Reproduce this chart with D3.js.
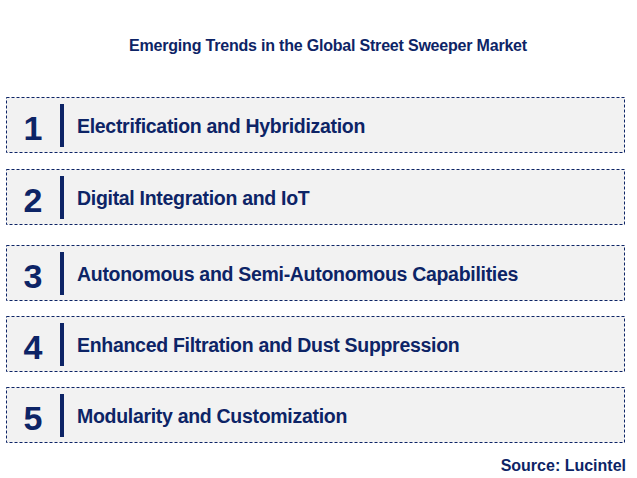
<!DOCTYPE html><html><head><script src="https://cdn.jsdelivr.net/npm/d3@7"></script>
<style>body{margin:0;background:#fff}</style></head><body><svg id="c" width="637" height="478"></svg>
<script>
const numbers=["1","2","3","4","5"];
const trends=["Electrification and Hybridization","Digital Integration and IoT","Autonomous and Semi-Autonomous Capabilities","Enhanced Filtration and Dust Suppression","Modularity and Customization"];
const tops=[97,169,245,316,387];
const svg=d3.select("#c");
const navy="#0d2466";
svg.append("text").attr("x",328).attr("y",51).attr("text-anchor","middle").attr("font-family","Liberation Sans, Arial").attr("font-weight","bold").attr("font-size",16).attr("letter-spacing",-0.2).attr("fill",navy).text("Emerging Trends in the Global Street Sweeper Market");
const g=svg.selectAll("g.r").data(trends).join("g").attr("transform",(d,i)=>`translate(0,${tops[i]})`);
g.append("rect").attr("x",6.5).attr("y",0.5).attr("width",618).attr("height",55).attr("fill","#f2f2f2").attr("stroke",navy).attr("stroke-dasharray","3,2").attr("stroke-width",1);
g.append("text").attr("x",33).attr("y",43).attr("text-anchor","middle").attr("font-family","Liberation Sans, Arial").attr("font-weight","bold").attr("font-size",34).attr("fill",navy).text((d,i)=>numbers[i]);
g.append("rect").attr("x",60).attr("y",7).attr("width",4).attr("height",43).attr("fill",navy);
g.append("text").attr("x",77).attr("y",36).attr("font-family","Liberation Sans, Arial").attr("font-weight","bold").attr("font-size",19.5).attr("letter-spacing",-0.3).attr("fill",navy).text(d=>d);
svg.append("text").attr("x",626).attr("y",471).attr("text-anchor","end").attr("font-family","Liberation Sans, Arial").attr("font-weight","bold").attr("font-size",16).attr("fill",navy).text("Source: Lucintel");
</script></body></html>
